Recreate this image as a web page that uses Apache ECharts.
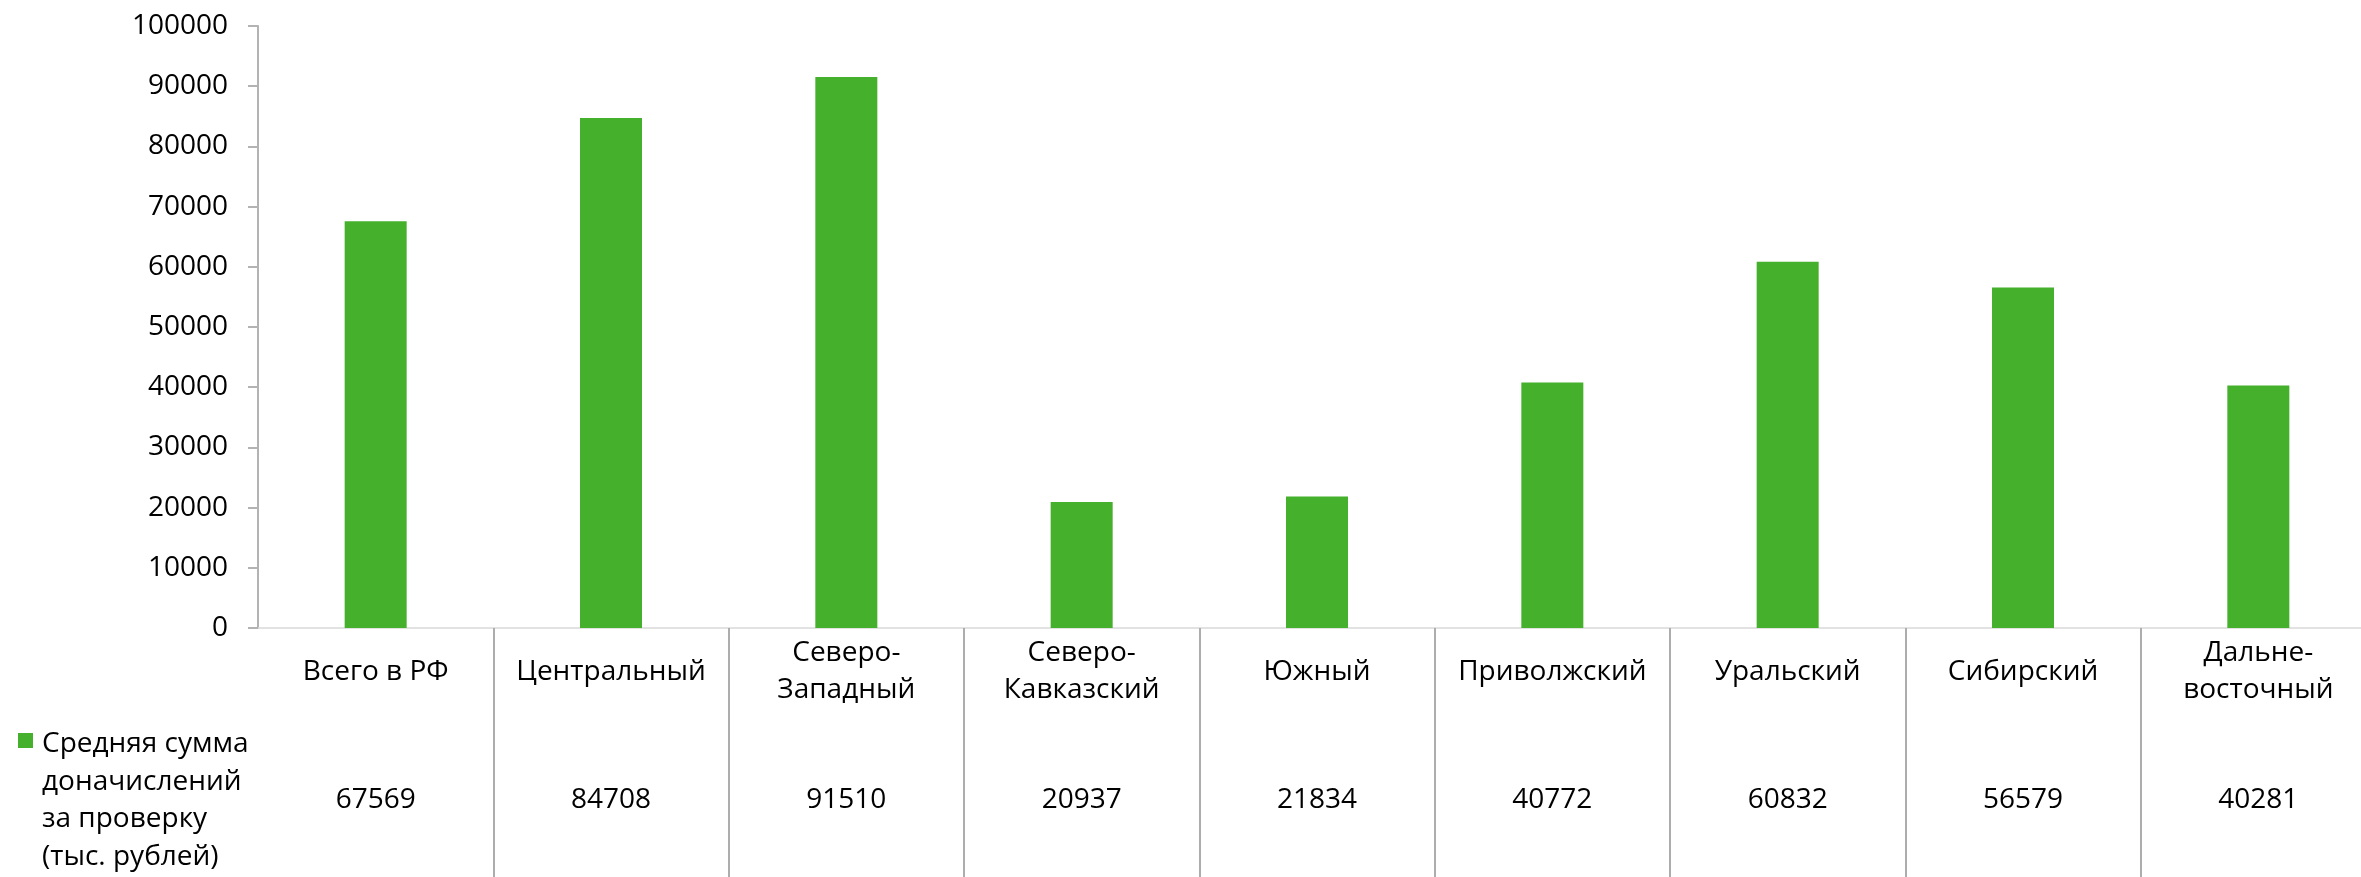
<!DOCTYPE html>
<html>
<head>
<meta charset="utf-8">
<script src="https://cdn.jsdelivr.net/npm/echarts@6/dist/echarts.min.js"></script>
<style>
  html, body { margin: 0; padding: 0; background: #fff; }
  #chart { width: 2361px; height: 877px; }
</style>
</head>
<body>
<div id="chart"></div>
<script>
const categories = ['Всего в РФ', 'Центральный', 'Северо-\nЗападный', 'Северо-\nКавказский', 'Южный', 'Приволжский', 'Уральский', 'Сибирский', 'Дальне-\nвосточный'];
const values = [67569, 84708, 91510, 20937, 21834, 40772, 60832, 56579, 40281];
const seriesName = 'Средняя сумма доначислений за проверку (тыс. рублей)';
const legendLines = ['Средняя сумма', 'доначислений', 'за проверку', '(тыс. рублей)'];
const yTicks = { min: 0, max: 100000, interval: 10000 };

const FONT = '"Open Sans", "Noto Sans", sans-serif';
const GREEN = '#44B02B';
const FS = 28;

const chart = echarts.init(document.getElementById('chart'), null, { renderer: 'canvas' });
chart.setOption({
  animation: false,
  backgroundColor: '#ffffff',
  textStyle: { fontFamily: FONT },
  grid: { left: 258, width: 2118, top: 26, bottom: 249, containLabel: false, outerBoundsMode: 'none' },
  xAxis: [
    {
      type: 'category',
      data: categories,
      boundaryGap: true,
      axisLine: { show: true, lineStyle: { color: '#D9D9D9', width: 1.5 } },
      axisTick: {
        show: true,
        inside: false,
        length: 250,
        interval: function (i) { return i > 0; },
        lineStyle: { color: '#ADADAD', width: 2 }
      },
      axisLabel: {
        interval: 0,
        margin: 44,
        verticalAlign: 'middle',
        lineHeight: 37,
        fontSize: FS,
        color: '#000',
        fontFamily: FONT
      },
      splitLine: { show: false }
    },
    {
      type: 'category',
      position: 'bottom',
      data: values.map(String),
      boundaryGap: true,
      axisLine: { show: false },
      axisTick: { show: false },
      axisLabel: {
        interval: 0,
        margin: 172,
        verticalAlign: 'middle',
        fontSize: FS,
        color: '#000',
        fontFamily: FONT
      },
      splitLine: { show: false }
    }
  ],
  yAxis: {
    type: 'value',
    min: yTicks.min,
    max: yTicks.max,
    interval: yTicks.interval,
    axisLine: { show: true, lineStyle: { color: '#B3B3B3', width: 2 } },
    axisTick: { show: true, inside: false, length: 10, lineStyle: { color: '#B3B3B3', width: 2 } },
    axisLabel: { margin: 30, fontSize: FS, color: '#000', fontFamily: FONT, formatter: function (v) { return String(v); } },
    splitLine: { show: false }
  },
  series: [{
    name: seriesName,
    type: 'bar',
    xAxisIndex: 0,
    data: values,
    barWidth: 62,
    itemStyle: { color: GREEN }
  }],
  graphic: [
    { type: 'rect', left: 18, top: 733, shape: { width: 15, height: 15 }, style: { fill: GREEN } },
    {
      type: 'text', left: 42, top: 725,
      style: { text: legendLines.join('\n'), fontSize: FS, lineHeight: 37.7, fill: '#000', fontFamily: FONT }
    }
  ]
});
</script>
</body>
</html>
